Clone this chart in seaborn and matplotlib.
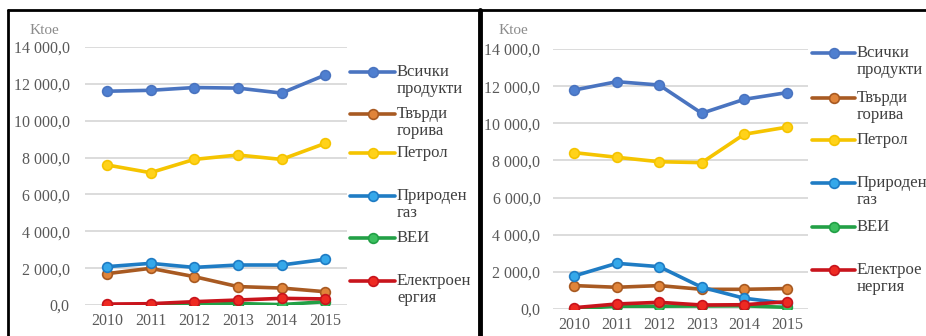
import pandas as pd
import seaborn as sns
import matplotlib.pyplot as plt
from matplotlib.lines import Line2D

# Data (Ktoe)
years = [2010, 2011, 2012, 2013, 2014, 2015]
series_names = ["Всички продукти", "Твърди горива", "Петрол", "Природен газ", "ВЕИ", "Електроенергия"]

left_all = [11600, 11650, 11800, 11770, 11500, 12480]
left_solid = [1700, 1990, 1540, 1000, 920, 720]
left_petrol = [7600, 7180, 7900, 8140, 7900, 8770]
left_gas = [2080, 2260, 2040, 2170, 2170, 2480]
left_res = [0, 10, 30, 80, 20, 180]
left_elec = [50, 70, 180, 270, 360, 330]

right_all = [11790, 12240, 12060, 10540, 11290, 11650]
right_solid = [1260, 1170, 1260, 1060, 1060, 1100]
right_petrol = [8420, 8170, 7930, 7880, 9410, 9790]
right_gas = [1780, 2460, 2280, 1170, 580, 300]
right_res = [10, 150, 150, 160, 170, 90]
right_elec = [70, 270, 360, 215, 230, 390]

left_labels = ["Всички\nпродукти", "Твърди\nгорива", "Петрол", "Природен\nгаз", "ВЕИ", "Електроен\nергия"]
right_labels = ["Всички\nпродукти", "Твърди\nгорива", "Петрол", "Природен\nгаз", "ВЕИ", "Електрое\nнергия"]

y_ticks = [0, 2000, 4000, 6000, 8000, 10000, 12000, 14000]
y_tick_labels = ["0,0", "2 000,0", "4 000,0", "6 000,0", "8 000,0", "10 000,0", "12 000,0", "14 000,0"]

line_colors = ["#4a74c0", "#a85a22", "#f5c400", "#1f7cc4", "#22a046", "#c8141c"]
face_colors = ["#4f7fd0", "#e0843a", "#ffd21a", "#35a8ea", "#3cc060", "#ee2a22"]


def long_df(values):
    rows = []
    for name, vals in zip(series_names, values):
        for yr, v in zip(years, vals):
            rows.append({"year": yr, "value": v, "series": name})
    return pd.DataFrame(rows)


df_left = long_df([left_all, left_solid, left_petrol, left_gas, left_res, left_elec])
df_right = long_df([right_all, right_solid, right_petrol, right_gas, right_res, right_elec])

sns.set_style("white")
FONT = "Liberation Serif"
plt.rcParams["font.family"] = FONT
text_col = "#595959"

W, H = 926, 336
fig = plt.figure(figsize=(W / 100, H / 100), dpi=100)


def fx(x):
    return x / W


def fy(y):
    return 1 - y / H


def draw_panel(ax, df, ypad):
    for i, name in enumerate(series_names):
        sub = df[df["series"] == name]
        sns.lineplot(data=sub, x="year", y="value", ax=ax, color=line_colors[i],
                     lw=2.6, marker="o", markersize=7, markerfacecolor=face_colors[i],
                     markeredgecolor=line_colors[i], markeredgewidth=1.2, zorder=3 + i)
    ax.set_xlim(2009.5, 2015.5)
    ax.set_ylim(0, 14000)
    ax.set_xticks(years)
    ax.set_xticklabels([str(y) for y in years], family=FONT)
    ax.set_yticks(y_ticks)
    ax.set_yticklabels(y_tick_labels, family=FONT)
    ax.set_xlabel("")
    ax.set_ylabel("")
    ax.yaxis.grid(True, color="#d9d9d9", lw=1.3)
    ax.set_axisbelow(True)
    for s in ax.spines.values():
        s.set_visible(False)
    ax.tick_params(axis="both", length=0, labelsize=11.5, labelcolor=text_col)
    ax.tick_params(axis="y", pad=ypad)
    ax.tick_params(axis="x", pad=6)


ax1 = fig.add_axes([fx(85), fy(305), fx(347 - 85), (305 - 47) / H])
ax2 = fig.add_axes([fx(553), fy(309), fx(808 - 553), (309 - 49) / H])
draw_panel(ax1, df_left, 11)
draw_panel(ax2, df_right, 9)

fig.text(fx(44), fy(30), "Ktoe", ha="center", va="center", fontsize=11, color="#8c8c8c", family=FONT)
fig.text(fx(513), fy(30), "Ktoe", ha="center", va="center", fontsize=11, color="#8c8c8c", family=FONT)


def draw_legend(x0, x1, ys, labels):
    for i, (y, lab) in enumerate(zip(ys, labels)):
        xm = (x0 + x1) / 2
        fig.add_artist(Line2D([fx(x0), fx(xm), fx(x1)], [fy(y)] * 3, color=line_colors[i], lw=2.6,
                              marker="o", markevery=[1], markersize=7, markerfacecolor=face_colors[i],
                              markeredgecolor=line_colors[i], markeredgewidth=1.2))
        fig.text(fx(x1 + 2), fy(y - 8), lab, ha="left", va="top", fontsize=12,
                 color="#404040", linespacing=1.1, family=FONT)


draw_legend(350, 395, [72, 114, 153, 196, 238, 281], left_labels)
draw_legend(812, 855, [53, 98, 140, 183, 227, 270], right_labels)

# panel frames
fig.add_artist(Line2D([fx(8), fx(W)], [fy(10), fy(10)], color="black", lw=2))
fig.add_artist(Line2D([fx(8), fx(8)], [fy(10), fy(H)], color="black", lw=2))
fig.add_artist(Line2D([fx(480), fx(480)], [fy(10), fy(H)], color="black", lw=3.5))

fig.savefig("out.png", dpi=100)
